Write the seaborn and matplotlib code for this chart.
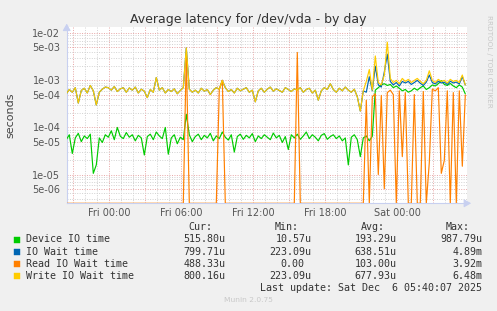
import numpy as np
import pandas as pd
import matplotlib
matplotlib.use("Agg")
import matplotlib.pyplot as plt
import matplotlib.dates as mdates
import matplotlib.ticker as mticker
import seaborn as sns

# ---------------- data ----------------
series_names = ["Device IO time", "IO Wait time", "Read IO Wait time", "Write IO Wait time"]
series_colors = ["#00CC00", "#0066B3", "#FF8000", "#FFCC00"]
start_time = "2025-12-04 20:25"
step = "15min"

# values in microseconds, one every 15 minutes
device_us = [
    55, 70, 28, 60, 75, 50, 66, 58, 72, 10.6,
    16, 60, 48, 70, 62, 85, 55, 100, 65, 58,
    78, 62, 70, 52, 68, 60, 26, 64, 72, 55,
    80, 66, 58, 100, 27, 60, 70, 45, 62, 55,
    190, 70, 50, 64, 72, 55, 68, 60, 75, 52,
    66, 58, 80, 62, 54, 70, 30, 64, 72, 56,
    68, 60, 74, 50, 66, 58, 70, 62, 55, 76,
    60, 68, 48, 64, 34, 70, 60, 72, 56, 66,
    80, 58, 70, 62, 52, 68, 74, 56, 64, 70,
    58, 66, 52, 60, 16, 62, 70, 55, 24, 60,
    66, 52, 65, 620, 700, 800, 850, 780, 820, 700,
    760, 680, 600, 640, 560, 600, 680, 620, 700, 760,
    640, 700, 800, 760, 850, 988, 820, 780, 860, 760,
    700, 800, 720, 515.8,
]
io_wait_us = [
    520, 640, 560, 700, 330, 610, 680, 540, 780, 600,
    300, 560, 650, 720, 700, 620, 740, 580, 660, 700,
    560, 690, 620, 720, 540, 650, 590, 430, 640, 560,
    1150, 620, 700, 540, 640, 580, 660, 520, 610, 700,
    4890, 650, 560, 620, 540, 680, 590, 640, 500, 620,
    700, 650, 1000, 700, 580, 640, 540, 680, 600, 650,
    700, 560, 620, 350, 600, 680, 560, 650, 720, 590,
    660, 610, 560, 700, 640, 580, 660, 620, 700, 560,
    640, 680, 540, 620, 380, 600, 700, 640, 850, 640,
    560, 680, 600, 720, 620, 560, 650, 450, 223, 600,
    560, 1200, 600, 2000, 800, 720, 1500, 3600, 950, 800,
    900, 760, 950, 880, 950, 820, 900, 1000, 870, 780,
    920, 1300, 900, 840, 960, 880, 920, 820, 960, 880,
    920, 840, 1200, 799.7,
]
read_us = [
    0, 0, 0, 0, 0, 0, 0, 0, 0, 0,
    0, 0, 0, 0, 0, 0, 0, 0, 0, 0,
    0, 0, 0, 0, 0, 0, 0, 0, 0, 0,
    0, 0, 0, 0, 0, 0, 0, 0, 0, 0,
    3500, 0, 0, 0, 0, 0, 0, 0, 0, 0,
    0, 650, 1000, 0, 0, 0, 0, 0, 0, 0,
    0, 0, 0, 0, 0, 0, 0, 0, 0, 0,
    0, 0, 0, 0, 0, 0, 0, 3920, 0, 0,
    0, 0, 0, 0, 0, 0, 0, 0, 0, 0,
    0, 0, 0, 0, 0, 0, 0, 0, 0, 0,
    380, 0, 450, 520, 10, 480, 5, 550, 620, 500,
    0, 600, 24, 550, 0, 0, 500, 0, 0, 580,
    0, 18, 650, 600, 700, 10.6, 20, 600, 0, 550,
    0, 600, 15, 488.3,
]
write_us = [
    520, 640, 560, 700, 330, 610, 680, 540, 780, 600,
    300, 560, 650, 720, 700, 620, 740, 580, 660, 700,
    560, 690, 620, 720, 540, 650, 590, 430, 640, 560,
    1150, 620, 700, 540, 640, 580, 660, 520, 610, 700,
    4900, 650, 560, 620, 540, 680, 590, 640, 500, 620,
    700, 650, 1000, 700, 580, 640, 540, 680, 600, 650,
    700, 560, 620, 350, 600, 680, 560, 650, 720, 590,
    660, 610, 560, 700, 640, 580, 660, 620, 700, 560,
    640, 680, 540, 620, 380, 600, 700, 640, 850, 640,
    560, 680, 600, 720, 620, 560, 650, 450, 223, 600,
    950, 1700, 620, 3300, 900, 800, 1300, 6480, 1100, 900,
    1000, 850, 1100, 950, 1050, 900, 1000, 1100, 950, 850,
    1000, 1600, 1000, 900, 1050, 950, 1000, 880, 1050, 950,
    1000, 900, 1300, 800.2,
]

cur_labels = ["515.80u", "799.71u", "488.33u", "800.16u"]
min_labels = ["10.57u", "223.09u", "0.00", "223.09u"]
avg_labels = ["193.29u", "638.51u", "103.00u", "677.93u"]
max_labels = ["987.79u", "4.89m", "3.92m", "6.48m"]

title = "Average latency for /dev/vda - by day"
ylabel = "seconds"
last_update = "Last update: Sat Dec  6 05:40:07 2025"
footer = "Munin 2.0.75"
side_text = "RRDTOOL / TOBI OETIKER"

# ---------------- frame ----------------
all_series = [device_us, io_wait_us, read_us, write_us]
times = pd.date_range(start_time, periods=len(device_us), freq=step)
rows = []
for name, vals in zip(series_names, all_series):
    for t, v in zip(times, vals):
        rows.append((t, name, v * 1e-6))
df = pd.DataFrame(rows, columns=["time", "series", "value"])

ymin, ymax = 2.45e-6, 1.36e-2
df["plot_value"] = df["value"].clip(lower=ymin)  # zero drawn on bottom edge, as rrdtool does

sns.set_theme(style="white")
plt.rcParams["font.family"] = ["DejaVu Sans"]

W, H = 497, 311
fig = plt.figure(figsize=(W / 100, H / 100), dpi=100, facecolor="#F0F0F0")
L, R, T, B = 66.7, 466.7, 27.0, 203.3
ax = fig.add_axes([L / W, 1 - B / H, (R - L) / W, (B - T) / H])
ax.set_facecolor("white")

sns.lineplot(data=df, x="time", y="plot_value", hue="series", hue_order=series_names,
             palette=series_colors, estimator=None, sort=False, legend=False,
             linewidth=0.85, ax=ax, zorder=3)

ax.set_yscale("log")
ax.set_ylim(ymin, ymax)
x0 = pd.Timestamp("2025-12-04 20:27")
x1 = pd.Timestamp("2025-12-06 05:47")
ax.set_xlim(x0, x1)
ax.set_xlabel("")
ax.set_ylabel("")

ax.yaxis.set_major_locator(mticker.LogLocator(base=10, subs=(1.0, 5.0)))
ax.yaxis.set_minor_locator(mticker.LogLocator(base=10, subs=(2, 3, 4, 6, 7, 8, 9)))
ax.yaxis.set_major_formatter(mticker.FuncFormatter(lambda v, p: f"{v:.0e}"))
ax.yaxis.set_minor_formatter(mticker.NullFormatter())

ax.xaxis.set_major_locator(mdates.HourLocator(byhour=range(0, 24, 3)))
ax.xaxis.set_minor_locator(mdates.HourLocator())


def xfmt(v, p):
    d = mdates.num2date(v)
    return d.strftime("%a %H:%M") if d.hour % 6 == 0 else ""


ax.xaxis.set_major_formatter(mticker.FuncFormatter(xfmt))

ax.set_axisbelow(True)
ax.grid(which="major", color="#e7a5a5", linestyle=(0, (1, 1.5)), linewidth=0.7)
ax.grid(which="minor", color="#d2d2d2", linestyle=(0, (1, 1.5)), linewidth=0.7)

ax.tick_params(which="major", length=2, width=0.7, color="#e7a5a5",
               labelsize=7, labelcolor="#555555", pad=2.5)
ax.tick_params(axis="x", which="major", pad=1.2)
ax.tick_params(which="minor", length=1.5, width=0.6, color="#cccccc")

for s in ["top", "right"]:
    ax.spines[s].set_visible(False)
for s in ["left", "bottom"]:
    ax.spines[s].set_color("#c8d0f0")
    ax.spines[s].set_linewidth(0.8)

axis_col = "#c8d0f0"
ax.annotate("", xy=(0, 1.035), xytext=(0, 0.99), xycoords="axes fraction",
            arrowprops=dict(arrowstyle="-|>,head_length=0.35,head_width=0.2",
                            color=axis_col, lw=0.8), annotation_clip=False)
ax.annotate("", xy=(1.018, 0), xytext=(0.99, 0), xycoords="axes fraction",
            arrowprops=dict(arrowstyle="-|>,head_length=0.35,head_width=0.2",
                            color=axis_col, lw=0.8), annotation_clip=False)


def fx(px):
    return px / W


def fy(py):
    return 1 - py / H


text_col = "#333333"
fig.text(fx(248), fy(19.5), title, ha="center", va="center", fontsize=9.0, color=text_col)
fig.text(fx(10.7), fy(115), ylabel, ha="center", va="center", rotation=90,
         fontsize=8, color="#444444")
fig.text(fx(488.5), fy(15), side_text, ha="center", va="top", rotation=270,
         fontsize=5.2, color="#c8c8c8")

mono = "DejaVu Sans Mono"
fs = 7.2
hdr_y = 227.3
for label, xr in zip(["Cur:", "Min:", "Avg:", "Max:"], [212.7, 299.0, 385.0, 470.0]):
    fig.text(fx(xr), fy(hdr_y), label, ha="right", va="center", family=mono,
             fontsize=fs, color=text_col)

row_y = [239.5, 251.7, 263.7, 275.7]
for i, (name, col) in enumerate(zip(series_names, series_colors)):
    yy = row_y[i]
    fig.patches.append(plt.Rectangle((fx(14), fy(yy + 3)), 6 / W, 6 / H,
                                     transform=fig.transFigure, facecolor=col,
                                     edgecolor=col, linewidth=0.3))
    fig.text(fx(26), fy(yy), name, ha="left", va="center", family=mono,
             fontsize=fs, color=text_col)
    fig.text(fx(225.7), fy(yy), cur_labels[i], ha="right", va="center", family=mono,
             fontsize=fs, color=text_col)
    mx = 311.7 if min_labels[i].endswith(("u", "m")) else 304.3
    fig.text(fx(mx), fy(yy), min_labels[i], ha="right", va="center", family=mono,
             fontsize=fs, color=text_col)
    fig.text(fx(396.7), fy(yy), avg_labels[i], ha="right", va="center", family=mono,
             fontsize=fs, color=text_col)
    fig.text(fx(482.3), fy(yy), max_labels[i], ha="right", va="center", family=mono,
             fontsize=fs, color=text_col)

fig.text(fx(482.3), fy(287.7), last_update, ha="right", va="center", family=mono,
         fontsize=fs, color=text_col)
fig.text(fx(248), fy(300.3), footer, ha="center", va="center", fontsize=5.4,
         color="#c8c8c8")

fig.savefig("out.png", dpi=100, facecolor=fig.get_facecolor())
